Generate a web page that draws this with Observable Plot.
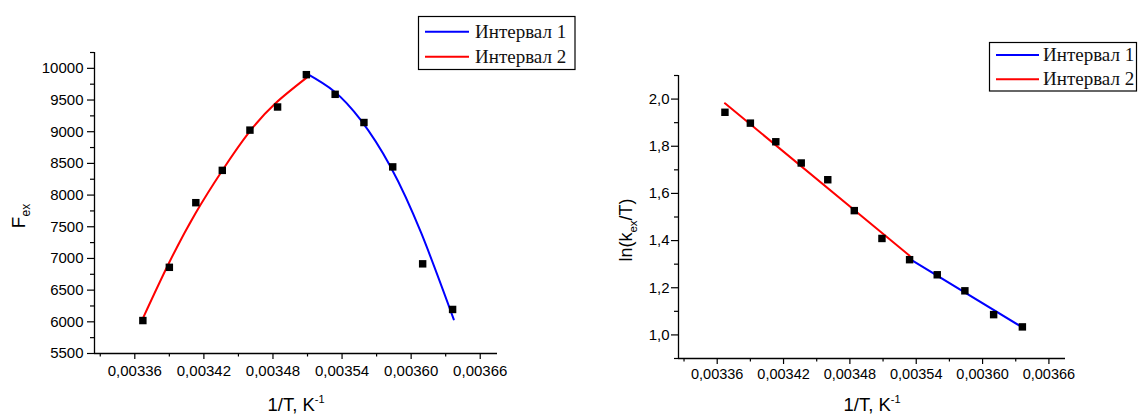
<!DOCTYPE html>
<html>
<head>
<meta charset="utf-8">
<script src="https://cdn.jsdelivr.net/npm/d3@7"></script>
<script src="https://cdn.jsdelivr.net/npm/@observablehq/plot@0.6"></script>
<style>
  html, body { margin: 0; padding: 0; background: #fff; }
  #wrap { position: relative; width: 1139px; height: 415px; overflow: hidden; background: #fff; }
  .chart { position: absolute; top: 0; }
  #overlay { position: absolute; left: 0; top: 0; z-index: 5; pointer-events: none; }
</style>
</head>
<body>
<div id="wrap">
  <div id="left" class="chart" style="left:0px"></div>
  <div id="right" class="chart" style="left:560px"></div>
</div>
<script>
// ---- data ----
const invT = [0.003367, 0.00339, 0.003413, 0.003436, 0.00346, 0.003484, 0.003509, 0.003534, 0.003559, 0.003584, 0.00361, 0.003636];
const fex  = [6020, 6860, 7880, 8390, 9025, 9390, 9900, 9590, 9145, 8445, 6915, 6195];
const lnk  = [1.944, 1.898, 1.819, 1.729, 1.658, 1.527, 1.409, 1.319, 1.255, 1.187, 1.086, 1.034];

// fitted curves, left chart
const fitF2x = [0.003367, 0.00339, 0.003413, 0.003436, 0.003459, 0.003482, 0.003509];
const fitF2y = [6054, 6940, 7722, 8389, 8985, 9445, 9849];
const fitF1x = [0.003509, 0.003533, 0.003556, 0.003582, 0.003609, 0.003637];
const fitF1y = [9921, 9640, 9190, 8452, 7390, 6038];

// fitted lines, right chart
const fitL2x = [0.003367, 0.003534];
const fitL2y = [1.982, 1.336];
const fitL1x = [0.003534, 0.003636];
const fitL1y = [1.322, 1.032];

// ticks
const xTicks = [0.00336, 0.00342, 0.00348, 0.00354, 0.0036, 0.00366];
const xTickLabels = ["0,00336", "0,00342", "0,00348", "0,00354", "0,00360", "0,00366"];
const xMinor = [0.00333, 0.00339, 0.00345, 0.00351, 0.00357, 0.00363];
const fTicks = [5500, 6000, 6500, 7000, 7500, 8000, 8500, 9000, 9500, 10000];
const fMinor = [5750, 6250, 6750, 7250, 7750, 8250, 8750, 9250, 9750, 10250];
const lTicks = [1.0, 1.2, 1.4, 1.6, 1.8, 2.0];
const lTickLabels = ["1,0", "1,2", "1,4", "1,6", "1,8", "2,0"];
const lMinor = [0.9, 1.1, 1.3, 1.5, 1.7, 1.9, 2.1];

const seriesNames = ["Интервал 1", "Интервал 2"];
const seriesColors = ["#0000ff", "#ff0000"];

// build tables
const pointsF = invT.map((x, i) => ({x, y: fex[i]}));
const pointsL = invT.map((x, i) => ({x, y: lnk[i]}));
const curveF2 = fitF2x.map((x, i) => ({x, y: fitF2y[i]}));
const curveF1 = fitF1x.map((x, i) => ({x, y: fitF1y[i]}));
const lineL2 = fitL2x.map((x, i) => ({x, y: fitL2y[i]}));
const lineL1 = fitL1x.map((x, i) => ({x, y: fitL1y[i]}));

const sans = "'Liberation Sans', Arial, sans-serif";
const xDomain = [0.003325, 0.003675];
const xFmt = d => xTickLabels[xTicks.indexOf(d)];

// ---- left chart ----
const left = Plot.plot({
  width: 560, height: 415,
  marginLeft: 94, marginRight: 63, marginTop: 52, marginBottom: 62,
  style: {fontFamily: sans, fontSize: "15px", background: "transparent", color: "#000"},
  x: {domain: xDomain, label: null},
  y: {domain: [5500, 10250], label: null},
  marks: [
    Plot.axisX(xTicks, {tickSize: 6, tickPadding: 6, tickFormat: xFmt, label: null, strokeWidth: 1.2, fontSize: 15}),
    Plot.axisX(xMinor, {tickSize: 3.5, tickFormat: () => "", label: null, strokeWidth: 1.2}),
    Plot.axisY(fTicks, {tickSize: 7, tickPadding: 4, tickFormat: d => String(d), label: null, strokeWidth: 1.2, fontSize: 15}),
    Plot.axisY(fMinor, {tickSize: 4, tickFormat: () => "", label: null, strokeWidth: 1.2}),
    Plot.ruleY([5500], {stroke: "#000", strokeWidth: 1.3}),
    Plot.ruleX([xDomain[0]], {stroke: "#000", strokeWidth: 1.3}),
    Plot.line(curveF2, {x: "x", y: "y", stroke: seriesColors[1], strokeWidth: 2, curve: "natural"}),
    Plot.line(curveF1, {x: "x", y: "y", stroke: seriesColors[0], strokeWidth: 2, curve: "natural"}),
    Plot.dot(pointsF, {x: "x", y: "y", symbol: "square", r: 4.2, fill: "#000", stroke: "none"})
  ]
});
document.getElementById("left").appendChild(left);

// ---- right chart ----
const right = Plot.plot({
  width: 579, height: 415,
  marginLeft: 118, marginRight: 74, marginTop: 75, marginBottom: 57,
  style: {fontFamily: sans, fontSize: "14.5px", background: "transparent", color: "#000"},
  x: {domain: xDomain, label: null},
  y: {domain: [0.9, 2.1], label: null},
  marks: [
    Plot.axisX(xTicks, {tickSize: 6, tickPadding: 4, tickFormat: xFmt, label: null, strokeWidth: 1.2, fontSize: 14.5}),
    Plot.axisX(xMinor, {tickSize: 3.5, tickFormat: () => "", label: null, strokeWidth: 1.2}),
    Plot.axisY(lTicks, {tickSize: 7, tickPadding: 2, tickFormat: d => lTickLabels[lTicks.indexOf(d)], label: null, strokeWidth: 1.2, fontSize: 15}),
    Plot.axisY(lMinor, {tickSize: 4, tickFormat: () => "", label: null, strokeWidth: 1.2}),
    Plot.ruleY([0.9], {stroke: "#000", strokeWidth: 1.3}),
    Plot.ruleX([xDomain[0]], {stroke: "#000", strokeWidth: 1.3}),
    Plot.line(lineL2, {x: "x", y: "y", stroke: seriesColors[1], strokeWidth: 2}),
    Plot.line(lineL1, {x: "x", y: "y", stroke: seriesColors[0], strokeWidth: 2}),
    Plot.dot(pointsL, {x: "x", y: "y", symbol: "square", r: 4.2, fill: "#000", stroke: "none"})
  ]
});
document.getElementById("right").appendChild(right);

// ---- axis titles ----
function xTitle(svg, cx) {
  const t = d3.select(svg).append("text")
    .attr("x", cx).attr("y", 411).attr("text-anchor", "middle")
    .attr("font-family", sans).attr("font-size", 18.5).attr("fill", "#000");
  t.append("tspan").text("1/T, K");
  t.append("tspan").attr("font-size", 11).attr("dy", -8).text("-1");
}
xTitle(left, 296);
xTitle(right, 872 - 560);

{
  const t = d3.select(left).append("text")
    .attr("transform", "translate(25,216) rotate(-90)").attr("text-anchor", "middle")
    .attr("font-family", sans).attr("font-size", 19).attr("fill", "#000");
  t.append("tspan").text("F");
  t.append("tspan").attr("font-size", 12).attr("dy", 5).text("ex");
}
{
  const t = d3.select(right).append("text")
    .attr("transform", "translate(" + (632 - 560) + ",230) rotate(-90)").attr("text-anchor", "middle")
    .attr("font-family", sans).attr("font-size", 18).attr("fill", "#000");
  t.append("tspan").text("ln(k");
  t.append("tspan").attr("font-size", 11.5).attr("dy", 5).text("ex");
  t.append("tspan").attr("dy", -5).text("/T)");
}

// ---- legends ----
const overlay = d3.select("#wrap").append("svg").attr("id", "overlay")
  .attr("width", 1139).attr("height", 415);

function legend(bx, by, bw, bh, lineX1, lineX2, textX, rowYs) {
  const g = overlay.append("g");
  g.append("rect").attr("x", bx).attr("y", by).attr("width", bw).attr("height", bh)
    .attr("fill", "#fff").attr("stroke", "#000").attr("stroke-width", 1.2);
  seriesNames.forEach((name, i) => {
    g.append("line").attr("x1", lineX1).attr("x2", lineX2).attr("y1", rowYs[i]).attr("y2", rowYs[i])
      .attr("stroke", seriesColors[i]).attr("stroke-width", 2);
    g.append("text").attr("x", textX).attr("y", rowYs[i] + 6)
      .attr("font-family", "'Liberation Serif', 'Times New Roman', serif").attr("font-size", 19)
      .attr("fill", "#111").text(name);
  });
}
legend(418.5, 16.5, 156.5, 53, 425, 469, 475, [31.7, 56.7]);
legend(989.5, 42.5, 147, 48.5, 996, 1039, 1043, [55, 79.3]);
</script>
</body>
</html>
